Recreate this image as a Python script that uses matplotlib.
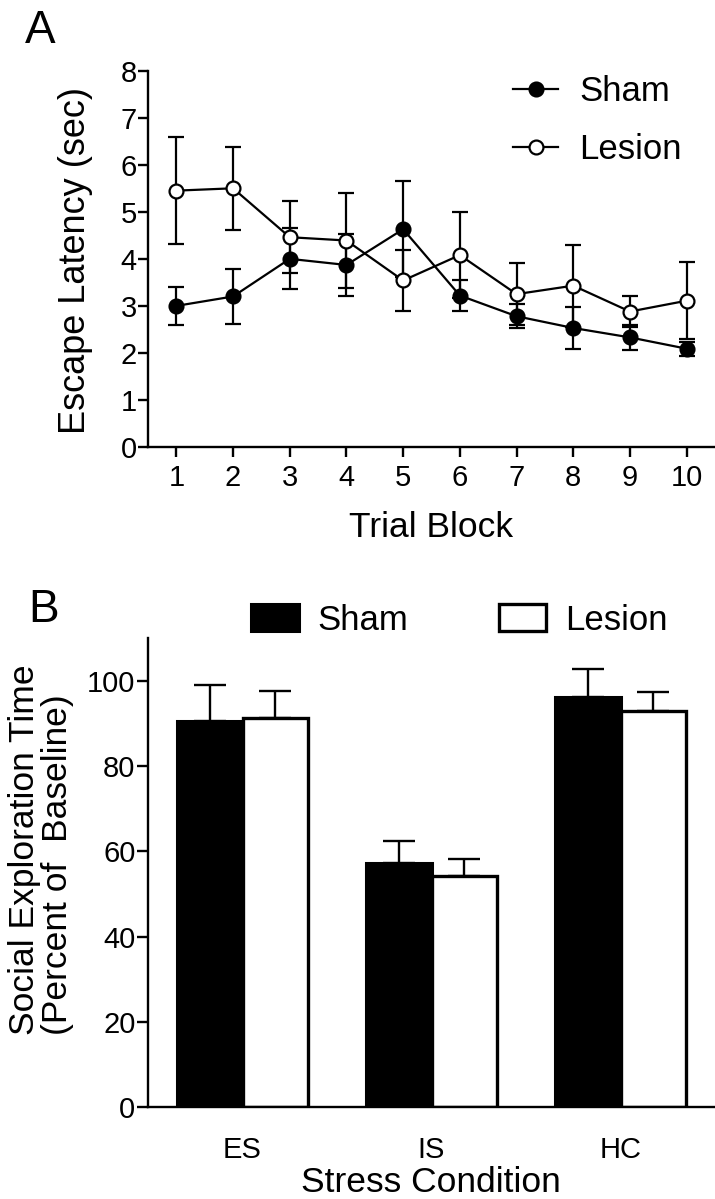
import matplotlib
matplotlib.use("Agg")
import matplotlib.pyplot as plt

plt.rcParams['font.family'] = ['Liberation Sans', 'DejaVu Sans']

# Panel A: escape latency per trial block
trial_blocks = [1, 2, 3, 4, 5, 6, 7, 8, 9, 10]
sham_latency = [3.00, 3.20, 4.00, 3.87, 4.63, 3.22, 2.78, 2.53, 2.33, 2.09]
sham_latency_sem = [0.40, 0.58, 0.65, 0.65, 1.02, 0.33, 0.25, 0.44, 0.27, 0.15]
lesion_latency = [5.45, 5.50, 4.46, 4.39, 3.54, 4.08, 3.25, 3.43, 2.88, 3.11]
lesion_latency_sem = [1.13, 0.88, 0.76, 1.01, 0.64, 0.92, 0.66, 0.87, 0.33, 0.82]

# Panel B: social exploration (% of baseline)
conditions = ['ES', 'IS', 'HC']
sham_explore = [90.6, 57.3, 96.1]
sham_explore_sem = [8.4, 5.1, 6.6]
lesion_explore = [91.2, 54.2, 92.9]
lesion_explore_sem = [6.4, 4.0, 4.5]

W, H = 715, 1199
fig = plt.figure(figsize=(W / 100, H / 100), dpi=100)


def px(x, y):
    # pixel coords (from top-left) -> figure fraction
    return x / W, 1 - y / H


def style_axes(ax):
    for s in ['top', 'right']:
        ax.spines[s].set_visible(False)
    for s in ['left', 'bottom']:
        ax.spines[s].set_linewidth(1.7)


# ---------- Panel A ----------
axA = fig.add_axes([148 / W, 1 - 447 / H, 567 / W, (447 - 70.7) / H])
style_axes(axA)

axA.errorbar(trial_blocks, sham_latency, yerr=sham_latency_sem, fmt='none',
             ecolor='black', elinewidth=1.6, capsize=6, capthick=1.6, zorder=2)
axA.errorbar(trial_blocks, lesion_latency, yerr=lesion_latency_sem, fmt='none',
             ecolor='black', elinewidth=1.6, capsize=6, capthick=1.6, zorder=2)
axA.plot(trial_blocks, sham_latency, '-o', color='black', lw=1.6, ms=10,
         mfc='black', mec='black', mew=1.6, zorder=3, label='Sham')
axA.plot(trial_blocks, lesion_latency, '-o', color='black', lw=1.6, ms=10,
         mfc='white', mec='black', mew=1.6, zorder=4, label='Lesion')

axA.set_xlim(0.5, 10.5)
axA.set_ylim(0, 8)
axA.set_xticks(trial_blocks)
axA.set_yticks(range(0, 9))
axA.tick_params(axis='both', labelsize=21, width=1.7, length=7, direction='out')
axA.tick_params(axis='x', pad=5)
axA.tick_params(axis='y', pad=1)

axA.legend(loc='center left', bbox_to_anchor=px(513, 120.5), frameon=False,
           fontsize=25, handlelength=1.3, handletextpad=0.6, labelspacing=0.7,
           borderpad=0, borderaxespad=0, bbox_transform=fig.transFigure)

fig.text(*px(76, 260), 'Escape Latency (sec)', rotation=90, fontsize=26,
         ha='center', va='center')
fig.text(*px(431, 527), 'Trial Block', fontsize=25.5, ha='center', va='center')
fig.text(*px(25, 43), 'A', fontsize=33, ha='left', va='baseline')

# ---------- Panel B ----------
axB = fig.add_axes([148 / W, 1 - 1107.3 / H, 567 / W, (1107.3 - 638) / H])
style_axes(axB)

bw = 0.345
xs = list(range(len(conditions)))
xs_sham = [x - bw / 2 for x in xs]
xs_lesion = [x + bw / 2 for x in xs]

axB.errorbar(xs_sham, sham_explore, yerr=[[0] * 3, sham_explore_sem], fmt='none',
             ecolor='black', elinewidth=1.7, capsize=11.5, capthick=1.7, zorder=1)
axB.errorbar(xs_lesion, lesion_explore, yerr=[[0] * 3, lesion_explore_sem], fmt='none',
             ecolor='black', elinewidth=1.7, capsize=11.5, capthick=1.7, zorder=1)
axB.bar(xs_sham, sham_explore, width=bw, color='black', edgecolor='black',
        linewidth=2.2, label='Sham', zorder=2)
axB.bar(xs_lesion, lesion_explore, width=bw, color='white', edgecolor='black',
        linewidth=2.4, label='Lesion', zorder=2)

axB.set_xlim(-0.5, 2.5)
axB.set_ylim(0, 110)
axB.set_yticks(range(0, 101, 20))
axB.set_xticks(xs)
axB.set_xticklabels(conditions)
axB.tick_params(axis='y', labelsize=21, width=1.7, length=8, pad=1)
axB.tick_params(axis='x', labelsize=21, length=0, pad=21)

axB.legend(loc='center left', bbox_to_anchor=px(251, 620), frameon=False, ncol=2,
           fontsize=25, handlelength=1.37, handleheight=0.85, handletextpad=0.55,
           columnspacing=2.6, borderpad=0, borderaxespad=0,
           bbox_transform=fig.transFigure)

fig.text(*px(41, 1035), 'Social Exploration Time\n(Percent of  Baseline)',
         rotation=90, fontsize=25.5, ha='center', va='bottom',
         multialignment='left', linespacing=1.0)
fig.text(*px(431, 1183), 'Stress Condition', fontsize=25.5, ha='center', va='center')
fig.text(*px(28, 622), 'B', fontsize=33, ha='left', va='baseline')

fig.savefig('out.png', dpi=100)
